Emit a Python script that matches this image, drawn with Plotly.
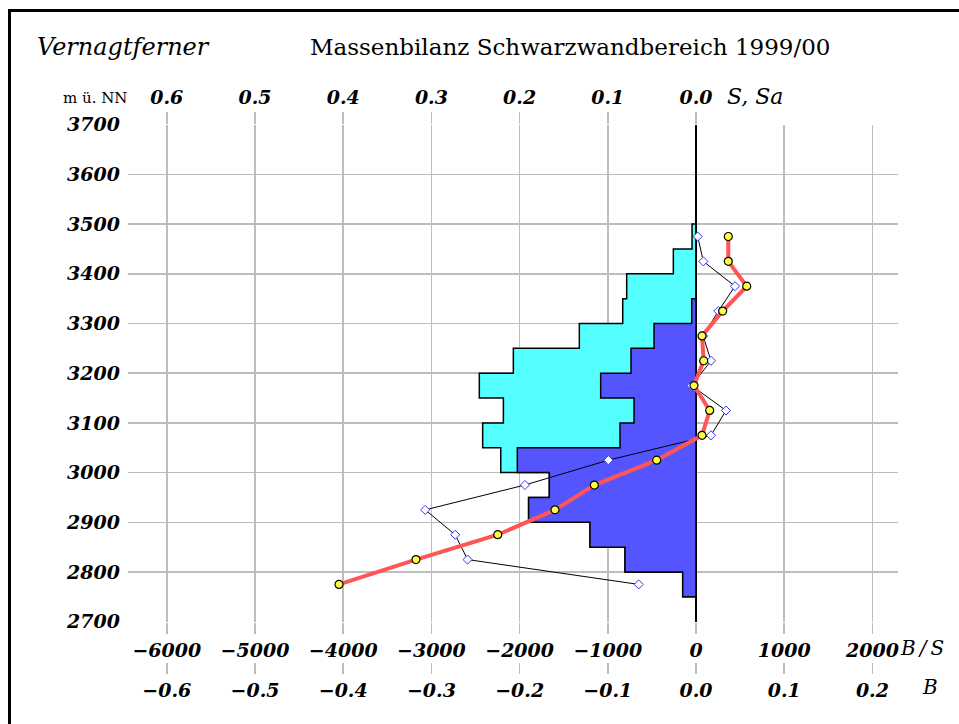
import plotly.graph_objects as go

# ---------------- data ----------------
band_center = [3475, 3425, 3375, 3325, 3275, 3225, 3175, 3125, 3075, 3025,
               2975, 2925, 2875, 2825, 2775]          # m a.s.l.
band_width = 50
# S  : area of each band (km^2), Sa: ablation part of it
S = [0.0045, 0.0257, 0.0786, 0.0831, 0.1323, 0.2071, 0.2457, 0.2184, 0.2419,
     0.2214, 0.1663, 0.1898, 0.1202, 0.0805, 0.0151]
Sa = [0.0, 0.0, 0.0, 0.0049, 0.0476, 0.0737, 0.1081, 0.0703, 0.0862,
      0.2026, 0.1663, 0.1898, 0.1202, 0.0805, 0.0151]
# B/S : specific balance (mm w.e.)
B_S = [366, 366, 575, 302, 68, 87, -23, 155, 68, -446, -1153, -1599,
       -2248, -3175, -4048]
# B : band balance (10^6 m^3)
B = [0.0019, 0.0083, 0.0442, 0.0253, 0.008, 0.017, -0.005, 0.034, 0.017,
     -0.0994, -0.194, -0.307, -0.273, -0.259, -0.065]

elev_ticks = [3700, 3600, 3500, 3400, 3300, 3200, 3100, 3000, 2900, 2800, 2700]
bs_ticks = [-6000, -5000, -4000, -3000, -2000, -1000, 0, 1000, 2000]
bs_text = ["\u22126000", "\u22125000", "\u22124000", "\u22123000", "\u22122000",
           "\u22121000", "0", "1000", "2000"]
b_ticks = [-0.6, -0.5, -0.4, -0.3, -0.2, -0.1, 0.0, 0.1, 0.2]
b_text = ["\u22120.6", "\u22120.5", "\u22120.4", "\u22120.3", "\u22120.2",
          "\u22120.1", "0.0", "0.1", "0.2"]
s_ticks = [0.6, 0.5, 0.4, 0.3, 0.2, 0.1, 0.0]
s_text = ["0.6", "0.5", "0.4", "0.3", "0.2", "0.1", "0.0"]

# ---------------- geometry (body margin removed by post_script) ----------------
W, H = 959, 724
px = lambda v: v / W
py = lambda v: 1 - v / H
XD = [px(128), px(898)]
YD = [py(621.7), py(124.7)]
BS_RANGE = [-6440, 2290]
S_RANGE = [-BS_RANGE[0] / 10000, -BS_RANGE[1] / 10000]
B_RANGE = [BS_RANGE[0] / 10000, BS_RANGE[1] / 10000]

GRID = "#BDBDBD"
FONT = "DejaVu Serif"
tickfont = dict(family=FONT, size=19, color="black", style="italic", weight="bold")


def step_polygon(values):
    top = band_center[0] + band_width / 2
    xs, ys = [0], [top]
    for c, v in zip(band_center, values):
        xs += [v, v]
        ys += [c + band_width / 2, c - band_width / 2]
    xs += [0, 0]
    ys += [band_center[-1] - band_width / 2, top]
    return xs, ys


fig = go.Figure()

sx, sy = step_polygon(S)
fig.add_trace(go.Scatter(x=sx, y=sy, xaxis="x", yaxis="y", mode="lines",
                         fill="toself", fillcolor="#55FFFF",
                         line=dict(color="black", width=1.5), hoverinfo="skip"))
ax_, ay_ = step_polygon(Sa)
fig.add_trace(go.Scatter(x=ax_, y=ay_, xaxis="x", yaxis="y", mode="lines",
                         fill="toself", fillcolor="#5555FF",
                         line=dict(color="black", width=1.5), hoverinfo="skip"))
fig.add_trace(go.Scatter(x=B, y=band_center, xaxis="x2", yaxis="y", mode="lines+markers",
                         line=dict(color="black", width=1),
                         marker=dict(symbol="diamond", size=7, color="white",
                                     line=dict(color="#3333FF", width=1))))
fig.add_trace(go.Scatter(x=B_S, y=band_center, xaxis="x3", yaxis="y", mode="lines+markers",
                         line=dict(color="#FF5555", width=4),
                         marker=dict(symbol="circle", size=8, color="#FFFF44",
                                     line=dict(color="black", width=1.2))))

common = dict(domain=XD, showgrid=False, zeroline=False, showline=False,
              automargin=False, fixedrange=True)

layout = dict(
    width=W, height=H, template="none",
    margin=dict(l=0, r=0, t=0, b=0),
    paper_bgcolor="white", plot_bgcolor="white",
    showlegend=False,
    # S axis (top, reversed)
    xaxis=dict(**common, range=S_RANGE, side="top", anchor="y",
               tickvals=s_ticks, ticktext=s_text, ticks="outside", ticklen=12,
               tickcolor=GRID, tickwidth=1.5, tickfont=tickfont),
    # B axis (second bottom row)
    xaxis2=dict(**common, range=B_RANGE, overlaying="x", side="bottom", anchor="free",
                position=py(662), tickvals=b_ticks, ticktext=b_text, ticks="outside",
                ticklen=11, tickcolor=GRID, tickwidth=1.5, tickfont=tickfont),
    # B/S axis (first bottom row, grid)
    xaxis3=dict(domain=XD, range=BS_RANGE, overlaying="x", side="bottom", anchor="y",
                showline=False, automargin=False, fixedrange=True,
                showgrid=True, gridcolor=GRID, gridwidth=1.5,
                zeroline=True, zerolinecolor="black", zerolinewidth=1.5,
                tickvals=bs_ticks, ticktext=bs_text, ticks="outside", ticklen=11,
                tickcolor=GRID, tickwidth=1.5, tickfont=tickfont),
    # lowest tick stubs
    xaxis4=dict(**common, range=BS_RANGE, overlaying="x", side="bottom", anchor="free",
                position=py(697), tickvals=bs_ticks, ticks="outside", ticklen=12,
                tickcolor=GRID, tickwidth=1.5, showticklabels=False),
    # highest tick stubs
    xaxis5=dict(**common, range=BS_RANGE, overlaying="x", side="top", anchor="free",
                position=py(84), tickvals=bs_ticks[:7], ticks="outside", ticklen=9,
                tickcolor=GRID, tickwidth=1.5, showticklabels=False),
    # stubs just above the plot top
    xaxis6=dict(**common, range=BS_RANGE, overlaying="x", side="top", anchor="y",
                tickvals=bs_ticks[:7], ticks="outside", ticklen=16,
                tickcolor=GRID, tickwidth=1.5, showticklabels=False),
    yaxis=dict(domain=YD, range=[2700, 3700], showgrid=True, gridcolor=GRID, gridwidth=1.5,
               zeroline=False, showline=False, automargin=False, fixedrange=True,
               tickvals=elev_ticks, ticktext=[str(t) for t in elev_ticks],
               ticks="", ticklabelstandoff=7, tickfont=tickfont),
    yaxis2=dict(domain=YD, range=[2700, 3700], overlaying="y", anchor="free",
                position=px(65), side="left", showgrid=False, zeroline=False,
                showline=False, automargin=False, fixedrange=True,
                tickvals=elev_ticks, ticks="outside", ticklen=28, tickcolor=GRID,
                tickwidth=1.5, showticklabels=False),
)

# black stubs for the zero line outside the plot
zero_axes = [("bottom", "y", None, 11), ("top", "y", None, 16),
             ("bottom", "free", py(662), 11), ("bottom", "free", py(697), 12),
             ("top", "free", py(84), 9)]
for i, (side, anchor, pos, ln) in enumerate(zero_axes, start=7):
    d = dict(**common, range=BS_RANGE, overlaying="x", side=side, anchor=anchor,
             tickvals=[0], ticks="outside", ticklen=ln, tickcolor="black",
             tickwidth=1.5, showticklabels=False)
    if pos is not None:
        d["position"] = pos
    layout["xaxis%d" % i] = d

fig.update_layout(**layout)

ann_font = dict(family=FONT, size=20, color="black", style="italic")
annotations = [
    dict(text="Vernagtferner", x=px(35), y=py(47), xanchor="left", yanchor="middle",
         font=dict(family=FONT, size=24, color="black", style="italic")),
    dict(text="Massenbilanz Schwarzwandbereich 1999/00", x=px(308), y=py(47),
         xanchor="left", yanchor="middle", font=dict(family=FONT, size=23, color="black")),
    dict(text="m ü. NN", x=px(95), y=py(98), xanchor="center", yanchor="middle",
         font=dict(family=FONT, size=15, color="black")),
    dict(text="S, Sa", x=px(725), y=py(97), xanchor="left", yanchor="middle",
         font=dict(family=FONT, size=22, color="black", style="italic")),
    dict(text="B\u2009/\u2009S", x=px(898), y=py(648), xanchor="left", yanchor="middle",
         font=ann_font),
    dict(text="B", x=px(930), y=py(687), xanchor="center", yanchor="middle", font=ann_font),
]
for a in annotations:
    a.update(xref="paper", yref="paper", showarrow=False)
fig.update_layout(annotations=annotations)

# frame (left and top edges visible)
fig.add_shape(type="line", xref="paper", yref="paper",
              x0=px(9.5), x1=px(9.5), y0=0, y1=py(10.5),
              line=dict(color="black", width=3), layer="above")
fig.add_shape(type="line", xref="paper", yref="paper",
              x0=px(8), x1=1, y0=py(10.5), y1=py(10.5),
              line=dict(color="black", width=3), layer="above")

fig.write_html("out.html",
               config={"displayModeBar": False, "staticPlot": True},
               post_script="document.body.style.margin='0';"
                           "document.documentElement.style.overflow='hidden';")
